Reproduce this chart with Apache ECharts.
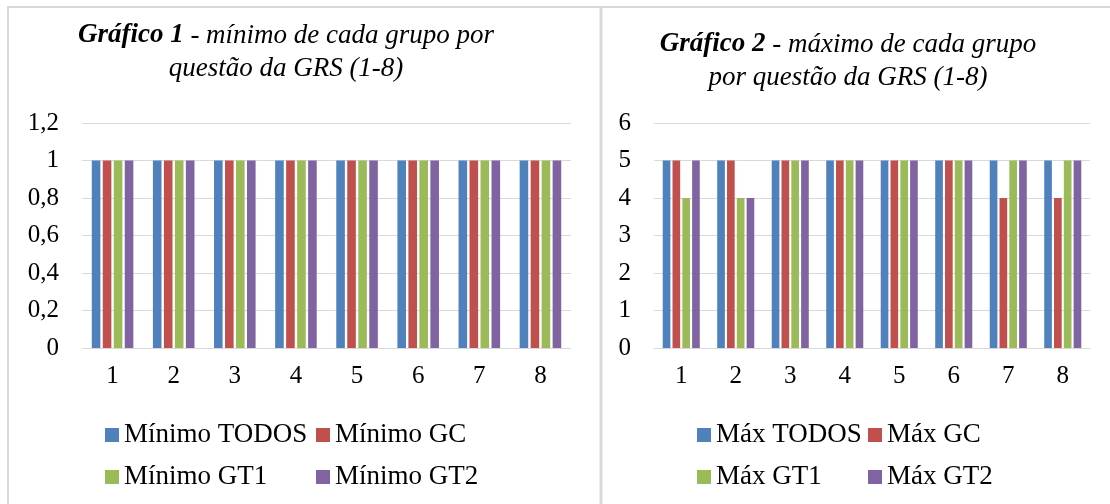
<!DOCTYPE html>
<html>
<head>
<meta charset="utf-8">
<script src="https://cdn.jsdelivr.net/npm/echarts@6/dist/echarts.min.js"></script>
<style>
  html, body { margin: 0; padding: 0; background: #fff; }
  #chart { width: 1110px; height: 504px; }
</style>
</head>
<body>
<div id="chart"></div>
<script>
// dados
const categories = ['1', '2', '3', '4', '5', '6', '7', '8'];

const minNames = ['Mínimo TODOS', 'Mínimo GC', 'Mínimo GT1', 'Mínimo GT2'];
const minTodos = [1, 1, 1, 1, 1, 1, 1, 1];
const minGC = [1, 1, 1, 1, 1, 1, 1, 1];
const minGT1 = [1, 1, 1, 1, 1, 1, 1, 1];
const minGT2 = [1, 1, 1, 1, 1, 1, 1, 1];

const maxNames = ['Máx TODOS', 'Máx GC', 'Máx GT1', 'Máx GT2'];
const maxTodos = [5, 5, 5, 5, 5, 5, 5, 5];
const maxGC = [5, 5, 5, 5, 5, 5, 4, 4];
const maxGT1 = [4, 4, 5, 5, 5, 5, 5, 5];
const maxGT2 = [5, 4, 5, 5, 5, 5, 5, 5];

const leftTicks = ['0', '0,2', '0,4', '0,6', '0,8', '1', '1,2'];
const rightTicks = ['0', '1', '2', '3', '4', '5', '6'];

const colors = ['#4F81BD', '#C0504D', '#9BBB59', '#8064A2'];
const serif = "'Times New Roman', 'Liberation Serif', serif";
const gridColor = '#d9d9d9';

const chart = echarts.init(document.getElementById('chart'));

function xAxis(gridIndex) {
  return {
    type: 'category',
    gridIndex,
    data: categories,
    axisLine: { lineStyle: { color: gridColor, width: 1 } },
    axisTick: { show: false },
    axisLabel: { color: '#000', fontFamily: serif, fontSize: 25, margin: 16 }
  };
}

function yAxis(gridIndex, max, interval, ticks) {
  return {
    type: 'value',
    gridIndex,
    min: 0,
    max,
    interval,
    axisLine: { show: false },
    axisTick: { show: false },
    splitLine: { lineStyle: { color: gridColor, width: 1 } },
    axisLabel: {
      color: '#000', fontFamily: serif, fontSize: 25, margin: 23,
      formatter: v => ticks[Math.round(v / interval)]
    }
  };
}

function bars(names, values, idx) {
  return names.map((name, i) => ({
    name,
    type: 'bar',
    xAxisIndex: idx,
    yAxisIndex: idx,
    data: values[i],
    itemStyle: { color: colors[i] },
    barGap: '28%',
    barCategoryGap: '32%'
  }));
}

function legend(left, top, items) {
  return {
    left, top,
    padding: 0,
    orient: 'vertical',
    data: items,
    icon: 'rect',
    itemWidth: 14,
    itemHeight: 14,
    itemGap: 14,
    textStyle: { fontFamily: serif, fontSize: 27, color: '#000', lineHeight: 28 },
    selectedMode: false
  };
}

function title(x, y, bold, rest, line2) {
  return {
    text: '{b|' + bold + '}{i| - ' + rest + '}\n{i|' + line2 + '}',
    left: x,
    top: y,
    padding: 0,
    textAlign: 'center',
    textStyle: {
      fontWeight: 'normal',
      rich: {
        b: { fontFamily: serif, fontSize: 27, fontStyle: 'italic', fontWeight: 'bold', color: '#000', lineHeight: 33 },
        i: { fontFamily: serif, fontSize: 27, fontStyle: 'italic', fontWeight: 'normal', color: '#000', lineHeight: 33 }
      }
    }
  };
}

chart.setOption({
  backgroundColor: '#fff',
  animation: false,
  title: [
    title(286, 19, 'Gráfico 1', 'mínimo de cada grupo por', 'questão da GRS (1-8)'),
    title(848, 28, 'Gráfico 2', 'máximo de cada grupo', 'por questão da GRS (1-8)')
  ],
  legend: [
    legend(105, 421, [minNames[0], minNames[2]]),
    legend(316, 421, [minNames[1], minNames[3]]),
    legend(697, 421, [maxNames[0], maxNames[2]]),
    legend(868, 421, [maxNames[1], maxNames[3]])
  ],
  grid: [
    { left: 82, right: 539, top: 123, bottom: 156 },
    { left: 654, right: 20, top: 123, bottom: 156 }
  ],
  xAxis: [xAxis(0), xAxis(1)],
  yAxis: [yAxis(0, 1.2, 0.2, leftTicks), yAxis(1, 6, 1, rightTicks)],
  series: [
    ...bars(minNames, [minTodos, minGC, minGT1, minGT2], 0),
    ...bars(maxNames, [maxTodos, maxGC, maxGT1, maxGT2], 1)
  ],
  graphic: [
    { type: 'rect', silent: true, shape: { x: 8, y: 7, width: 1120, height: 520 },
      style: { fill: 'none', stroke: gridColor, lineWidth: 2 } },
    { type: 'line', silent: true, shape: { x1: 601, y1: 7, x2: 601, y2: 504 },
      style: { stroke: gridColor, lineWidth: 3 } }
  ]
});
</script>
</body>
</html>
